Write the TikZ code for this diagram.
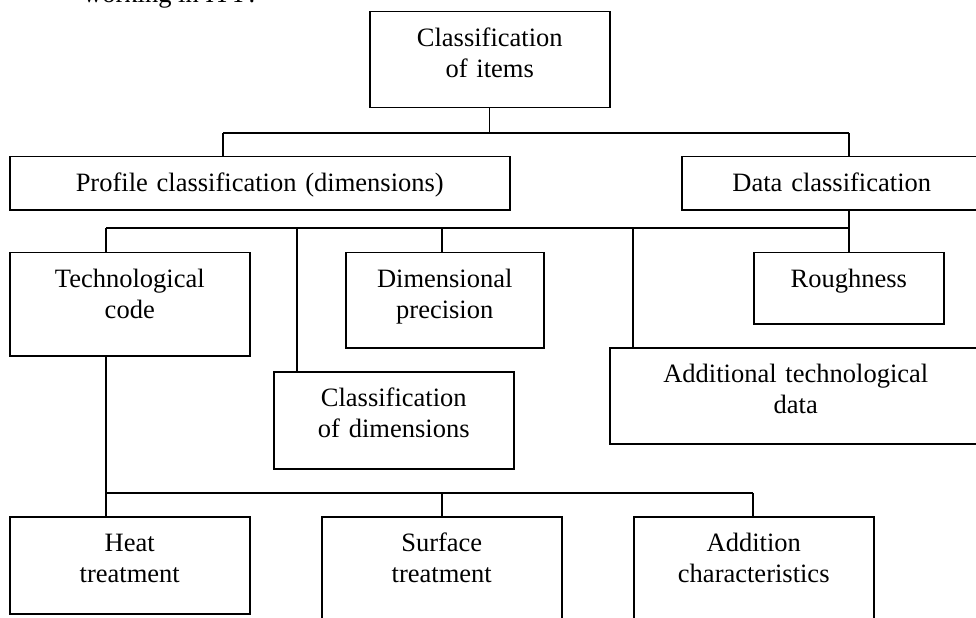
\documentclass[tikz,border=0pt]{standalone}
\usepackage{fontspec}
\setmainfont{Liberation Serif}
\begin{document}
\begin{tikzpicture}[x=1bp, y=-1bp,
        box/.style={draw, line width=1.5bp, inner sep=0pt, anchor=north west, align=center,
            text height=35bp, font=\fontsize{26.6}{31}\selectfont},
        link/.style={line width=1.3bp},
        bus/.style={line width=2bp}]
            \useasboundingbox (0,0) rectangle (976,618);
            \clip (0,0) rectangle (976,618);
            
            \node (0) [anchor=base west, inner sep=0pt, font=\fontsize{26.6}{31}\selectfont] at (83,3) {working in ITT?};
            
            \node (1) [box, text width=240bp, text depth=61bp] at (369,11) {Classification\\of items};
            
            \node (2) [box, text width=500bp, text depth=18bp] at (9,156) {Profile classification (dimensions)};
            \node (3) [box, text width=300bp, text depth=18bp] at (681,156) {Data classification};
            
            \node (4) [box, text width=240bp, text depth=68bp] at (9,252) {Technological\\code};
            \node (5) [box, text width=198bp, text depth=60bp] at (345,252) {Dimensional\\precision};
            \node (6) [box, text width=240bp, text depth=62bp] at (273,371) {Classification\\of dimensions};
            \node (7) [box, text width=190bp, text depth=36bp] at (753,252) {Roughness};
            \node (8) [box, text width=372bp, text depth=61bp] at (609,347) {Additional technological\\data};
            
            \node (9) [box, text width=240bp, text depth=62bp] at (9,516) {Heat\\treatment};
            \node (10) [box, text width=240bp, text depth=75bp] at (321,516) {Surface\\treatment};
            \node (11) [box, text width=240bp, text depth=75bp] at (633,516) {Addition\\characteristics};
            
            \coordinate (a1) at (223,133);
            \coordinate (a2) at (849,133);
            
            \coordinate (b1) at (106,228);
            \coordinate (b2) at (297,228);
            \coordinate (b3) at (442,228);
            \coordinate (b4) at (633,228);
            \coordinate (b5) at (849,228);
            
            \coordinate (c1) at (106,493);
            \coordinate (c2) at (442,493);
            \coordinate (c3) at (753,493);
            
            \draw [link] (1.south) -- (1.south |- a1);
            \draw [link] (a1) -- (a2);
            \draw [link] (a1) -- (a1 |- 2.north);
            \draw [link] (a2) -- (a2 |- 3.north);
            
            \draw [link] (b5 |- 3.south) -- (b5);
            \draw [bus] (b1) -- (b5);
            \draw [link] (b1) -- (b1 |- 4.north);
            \draw [link] (b2) -- (b2 |- 6.north);
            \draw [link] (b3) -- (b3 |- 5.north);
            \draw [link] (b4) -- (b4 |- 8.north);
            \draw [link] (b5) -- (b5 |- 7.north);
            
            \draw [link] (c1 |- 4.south) -- (c1);
            \draw [bus] (c1) -- (c3);
            \draw [link] (c1) -- (c1 |- 9.north);
            \draw [link] (c2) -- (c2 |- 10.north);
            \draw [link] (c3) -- (c3 |- 11.north);
        \end{tikzpicture}
\end{document}
